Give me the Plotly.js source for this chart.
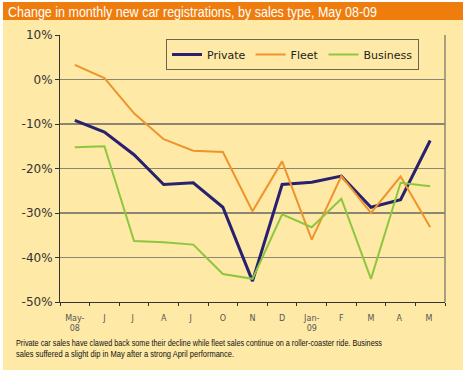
<!DOCTYPE html>
<html>
<head>
<meta charset="utf-8">
<script src="https://cdn.plot.ly/plotly-3.0.1.min.js"></script>
<style>
  html, body { margin: 0; padding: 0; background: #ffffff; }
  #chart { width: 468px; height: 375px; }
</style>
</head>
<body>
<div id="chart"></div>
<script>
// Data
const months = ['May-<br>08', 'J', 'J ', 'A', 'J  ', 'O', 'N', 'D', 'Jan-<br>09', 'F', 'M', 'A ', 'M '];
const privateVals  = [-9.2, -11.8, -16.9, -23.6, -23.2, -28.7, -45.3, -23.6, -23.1, -21.7, -28.7, -27.0, -13.7];
const fleetVals    = [3.3, 0.3, -7.6, -13.4, -16.0, -16.3, -29.6, -18.4, -36.0, -21.7, -30.0, -21.8, -33.2];
const businessVals = [-15.2, -15.0, -36.3, -36.6, -37.1, -43.7, -44.8, -30.3, -33.2, -26.8, -44.8, -23.2, -24.0];
const yTickVals = [10, 0, -10, -20, -30, -40, -50];
const yTickText = ['10%', '0%', '-10%', '-20%', '-30%', '-40%', '-50%'];
const titleText = 'Change in monthly new car registrations, by sales type, May 08-09';
const captionLines = [
  'Private car sales have clawed back some their decline while fleet sales continue on a roller-coaster ride. Business',
  'sales suffered a slight dip in May after a strong April performance.'
];

const bg = '#fee9a6';
const grid = '#8c8572';

// plot area in pixels: x 60..445, y 35..302
const L = 60, R = 445, T = 35, B = 302;
const px = x => (x - L) / (R - L);
const py = y => (B - y) / (B - T);

const traces = [
  { x: months, y: privateVals, name: 'Private', type: 'scatter', mode: 'lines',
    line: { color: '#27216f', width: 3 } },
  { x: months, y: fleetVals, name: 'Fleet', type: 'scatter', mode: 'lines',
    line: { color: '#ef932c', width: 2 } },
  { x: months, y: businessVals, name: 'Business', type: 'scatter', mode: 'lines',
    line: { color: '#8dc63f', width: 2 } }
];

const narrowFont = 'Liberation Sans, Arial, sans-serif';

const layout = {
  width: 468, height: 375,
  margin: { l: L, r: 468 - R, t: T, b: 375 - B, pad: 0 },
  paper_bgcolor: '#ffffff',
  plot_bgcolor: bg,
  font: { family: 'DejaVu Sans, Verdana, sans-serif', color: '#333333' },
  title: {
    text: titleText,
    font: { family: narrowFont, size: 15, color: '#ffffff' },
    xref: 'container', yref: 'container', x: 8 / 468, xanchor: 'left',
    y: 1 - 12 / 375, yanchor: 'middle'
  },
  showlegend: true,
  legend: {
    orientation: 'h',
    x: px(166), y: py(39), xanchor: 'left', yanchor: 'top',
    bgcolor: bg, bordercolor: '#6b6650', borderwidth: 1,
    font: { family: 'DejaVu Sans, Verdana, sans-serif', size: 11, color: '#222222' },
    itemwidth: 30
  },
  xaxis: {
    type: 'category',
    categoryorder: 'array', categoryarray: months,
    range: [-0.5, 12.5],
    tickson: 'boundaries',
    ticks: 'outside', ticklen: 3, tickcolor: '#333333', tickwidth: 1,
    ticklabelstandoff: 8,
    showgrid: false, zeroline: false,
    showline: true, linecolor: '#333333', linewidth: 1,
    tickfont: { family: 'DejaVu Sans, Verdana, sans-serif', size: 8, color: '#555555' },
    fixedrange: true
  },
  yaxis: {
    range: [-50, 10],
    tickvals: yTickVals, ticktext: yTickText,
    ticks: 'outside', ticklen: 4, tickcolor: '#333333',
    showgrid: true, gridcolor: grid, gridwidth: 1.5,
    zeroline: false,
    showline: true, linecolor: '#333333', linewidth: 1,
    tickfont: { family: 'DejaVu Sans, Verdana, sans-serif', size: 12, color: '#333333' },
    fixedrange: true
  },
  shapes: [
    { type: 'rect', xref: 'paper', yref: 'paper', layer: 'below',
      x0: px(3), x1: px(463), y0: py(370), y1: py(20),
      fillcolor: bg, line: { width: 0 } },
    { type: 'rect', xref: 'paper', yref: 'paper', layer: 'below',
      x0: px(3), x1: px(463), y0: py(20), y1: py(2),
      fillcolor: '#ee7d0e', line: { width: 0 } },
    { type: 'line', xref: 'paper', yref: 'paper', layer: 'above',
      x0: 1, x1: 1, y0: 0, y1: 1, line: { color: grid, width: 1.5 } }
  ],
  annotations: [
    { xref: 'paper', yref: 'paper', x: px(14), y: py(343), xanchor: 'left', yanchor: 'middle',
      showarrow: false, align: 'left', text: captionLines[0],
      font: { family: narrowFont, size: 9, color: '#111111' } },
    { xref: 'paper', yref: 'paper', x: px(14), y: py(354), xanchor: 'left', yanchor: 'middle',
      showarrow: false, align: 'left', text: captionLines[1],
      font: { family: narrowFont, size: 9, color: '#111111' } }
  ]
};

// Condense text to the widths of the reference's condensed typeface
function condense(el, width) {
  if (!el) return;
  el.setAttribute('textLength', width);
  el.setAttribute('lengthAdjust', 'spacingAndGlyphs');
}

Plotly.newPlot('chart', traces, layout, { displayModeBar: false, staticPlot: true }).then(function (gd) {
  condense(gd.querySelector('.gtitle'), 369);
  const ann = gd.querySelectorAll('.annotation-text');
  if (ann[0]) { ann[0].setAttribute('text-anchor', 'start'); condense(ann[0], 366); }
  if (ann[1]) { ann[1].setAttribute('text-anchor', 'start'); condense(ann[1], 218); }
});
</script>
</body>
</html>
